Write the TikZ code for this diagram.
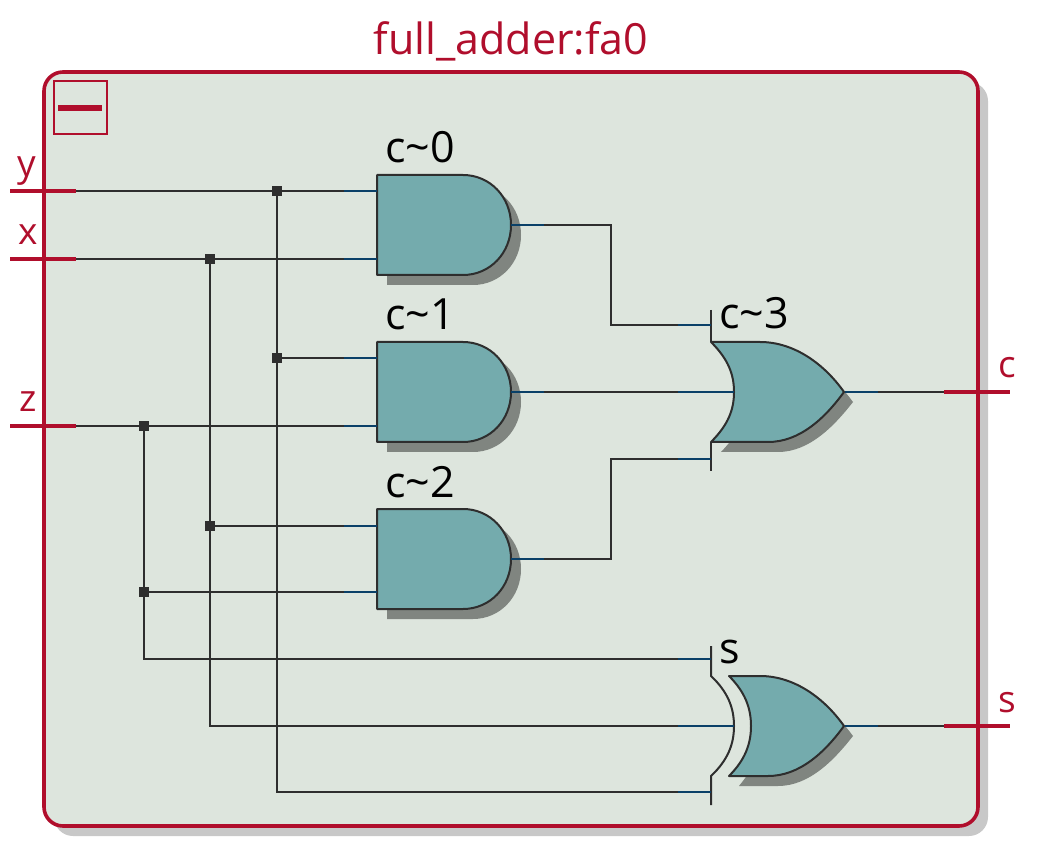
\documentclass[tikz,border=0pt]{standalone}
\usepackage{fontspec}
\setmainfont{Open Sans}
\usetikzlibrary{calc}
\definecolor{rd}{HTML}{B00E2C}
\definecolor{bg}{HTML}{DDE5DD}
\definecolor{gt}{HTML}{74ABAD}
\definecolor{gs}{HTML}{808580}
\definecolor{fs}{HTML}{C8C8C8}
\definecolor{dk}{HTML}{2E2E2E}
\definecolor{bl}{HTML}{0A4068}
\tikzset{
  x=1pt,y=-1pt,
  wire/.style={draw=dk,line width=2pt,line join=miter},
  stub/.style={draw=bl,line width=2pt},
  portline/.style={draw=rd,line width=3.4pt},
  gatebody/.style={draw=dk,line width=2pt,fill=gt,line join=round},
  gateshadow/.style={fill=gs,draw=none},
  bar/.style={draw=dk,line width=2pt},
  jct/.style={fill=dk,draw=none,minimum size=10pt,inner sep=0pt,rectangle},
  gatelabel/.style={anchor=base west,inner sep=0pt,text=black,font=\fontsize{43}{43}\selectfont},
  portlabel/.style={anchor=base,inner sep=0pt,text=rd,font=\fontsize{37}{37}\selectfont},
}
\begin{document}
\begin{tikzpicture}
\useasboundingbox (0,0) rectangle (1037,850);
% frame
\fill[fs,rounded corners=19pt] (54,82) rectangle (988,836);
\draw[draw=rd,fill=bg,line width=3.6pt,rounded corners=19pt] (44,72) rectangle (978,826);
\node[anchor=base,inner sep=0pt,text=rd,font=\fontsize{43}{43}\selectfont] (title) at (511,55) {full\_adder:fa0};
\node[draw=rd,line width=2pt,minimum size=53pt,inner sep=0pt,rectangle] (box) at (80,108) {};
\node[fill=rd,minimum width=44pt,minimum height=6pt,inner sep=0pt,rectangle] (minus) at (80,108) {};
% gate pins
\coordinate (c0-a) at (377,191); \coordinate (c0-b) at (377,259); \coordinate (c0-o) at (511,225);
\coordinate (c1-a) at (377,358); \coordinate (c1-b) at (377,426); \coordinate (c1-o) at (511,392);
\coordinate (c2-a) at (377,526); \coordinate (c2-b) at (377,592); \coordinate (c2-o) at (511,559);
\coordinate (c3-a) at (711,325);
\coordinate (c3-b) at (734,392);
\coordinate (c3-c) at (711,459);
\coordinate (c3-o) at (845,392);
\coordinate (s-a) at (711,659);
\coordinate (s-b) at (734,726);
\coordinate (s-c) at (711,792);
\coordinate (s-o) at (845,726);
% ports
\coordinate (py1) at (10,191); \coordinate (py) at (76,191);
\coordinate (px1) at (10,259); \coordinate (px) at (76,259);
\coordinate (pz1) at (10,426); \coordinate (pz) at (76,426);
\coordinate (pc) at (944,392); \coordinate (pc1) at (1010,392);
\coordinate (ps) at (944,726); \coordinate (ps1) at (1010,726);
% AND gates
\foreach \n/\t/\l in {c0/175/c\textasciitilde0,c1/342/c\textasciitilde1,c2/509/c\textasciitilde2}{
  \fill[gateshadow] (387,\t+10) -- (473,\t+10) .. controls (500,\t+10) and (521,\t+32) .. (521,\t+60) .. controls (521,\t+88) and (500,\t+110) .. (473,\t+110) -- (387,\t+110) -- cycle;
  \draw[gatebody] (377,\t) -- (463,\t) .. controls (490,\t) and (511,\t+22) .. (511,\t+50) .. controls (511,\t+78) and (490,\t+100) .. (463,\t+100) -- (377,\t+100) -- cycle;
  \node[gatelabel] (\n-l) at (385,\t-12) {\l};
}
% OR gate c~3
\fill[gateshadow] (721,452) -- (778,452) .. controls (810,452) and (835,425) .. (853,402) .. controls (835,378) and (810,352) .. (770,352) -- (721,352) .. controls (740,372) and (744,385) .. (744,402) .. controls (744,420) and (740,432) .. (721,452) -- cycle;
\draw[bar] (711,310) -- (711,342);
\draw[bar] (711,442) -- (711,471);
\draw[gatebody] (711,342) -- (760,342) .. controls (795,342) and (825,365) .. (844,392) .. controls (825,418) and (800,442) .. (768,442) -- (711,442) .. controls (728,425) and (734,410) .. (734,392) .. controls (734,374) and (728,359) .. (711,342) -- cycle;
\node[gatelabel] (c3-l) at (719,329) {c\textasciitilde3};
% XOR gate s
\fill[gateshadow] (739,786) -- (778,786) .. controls (810,786) and (835,759) .. (853,736) .. controls (835,712) and (810,686) .. (770,686) -- (739,686) .. controls (755,706) and (761,719) .. (761,736) .. controls (761,754) and (755,766) .. (739,786) -- cycle;
\draw[draw=dk,line width=2pt] (711,646) -- (711,676) .. controls (728,692) and (734,708) .. (734,726) .. controls (734,744) and (728,760) .. (711,776) -- (711,805);
\draw[gatebody] (729,676) -- (760,676) .. controls (795,676) and (825,699) .. (844,726) .. controls (825,752) and (800,776) .. (768,776) -- (729,776) .. controls (745,760) and (751,744) .. (751,726) .. controls (751,708) and (745,692) .. (729,676) -- cycle;
\node[gatelabel] (s-l) at (719,663) {s};
% junctions
\node[jct] (j1) at (277,191) {};
\node[jct] (j2) at (277,358) {};
\node[jct] (j3) at (210,259) {};
\node[jct] (j4) at (210,526) {};
\node[jct] (j5) at (144,426) {};
\node[jct] (j6) at (144,592) {};
% wires
\draw[wire] (py) -- (c0-a);
\draw[wire] (px) -- (c0-b);
\draw[wire] (pz) -- (c1-b);
\draw[wire] (j2) -- (c1-a);
\draw[wire] (j4) -- (c2-a);
\draw[wire] (j6) -- (c2-b);
\draw[wire] (j1) -- (j2) -- (j2 |- s-c) -- (s-c);
\draw[wire] (j3) -- (j4) -- (j4 |- s-b) -- (s-b);
\draw[wire] (j5) -- (j6) -- (j6 |- s-a) -- (s-a);
\draw[wire] (c0-o) -| (611,325) -- (c3-a);
\draw[wire] (c1-o) -- (c3-b);
\draw[wire] (c2-o) -| (611,459) -- (c3-c);
\draw[wire] (c3-o) -- (pc);
\draw[wire] (s-o) -- (ps);
% blue stubs at pins
\foreach \n in {c0-a,c0-b,c1-a,c1-b,c2-a,c2-b,c3-a,c3-c,s-a,s-c}{
  \draw[stub] ($(\n)+(-33,0)$) -- (\n);
}
\foreach \n in {c3-b,s-b}{
  \draw[stub] ($(\n)+(-56,0)$) -- (\n);
}
\foreach \n in {c0-o,c1-o,c2-o,c3-o,s-o}{
  \draw[stub] (\n) -- ($(\n)+(33,0)$);
}
% port lines
\draw[portline] (py1) -- (py);
\draw[portline] (px1) -- (px);
\draw[portline] (pz1) -- (pz);
\draw[portline] (pc) -- (pc1);
\draw[portline] (ps) -- (ps1);
\node[portlabel] (ly) at (27,177) {y};
\node[portlabel] (lx) at (28,245) {x};
\node[portlabel] (lz) at (28,412) {z};
\node[portlabel] (lc) at (1007,378) {c};
\node[portlabel] (ls) at (1007,712) {s};
\end{tikzpicture}
\end{document}
